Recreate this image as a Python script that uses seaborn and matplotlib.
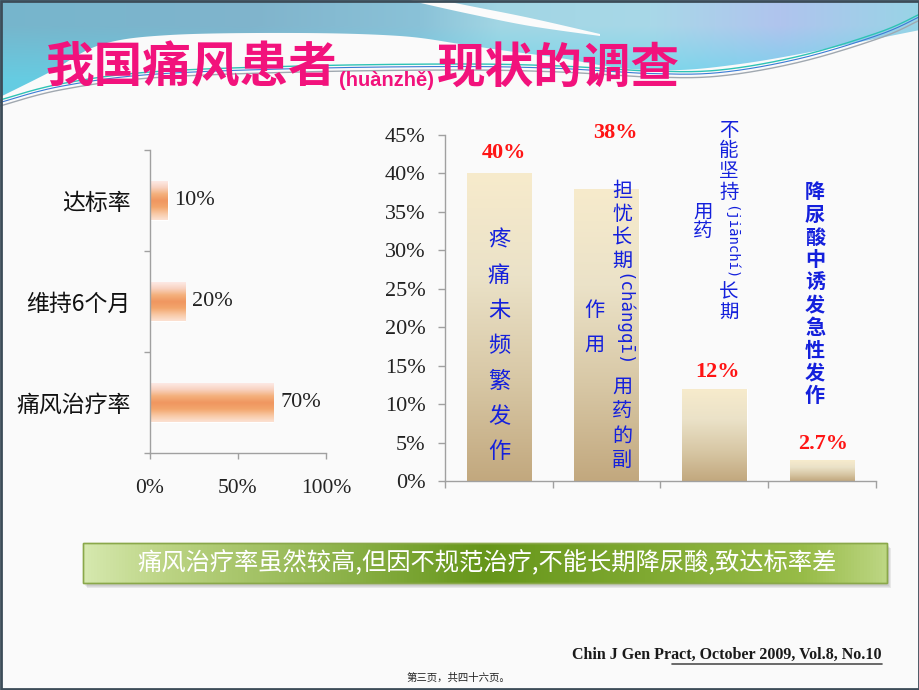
import numpy as np
import pandas as pd
import matplotlib
matplotlib.use("Agg")
import matplotlib.pyplot as plt
import seaborn as sns
from matplotlib.colors import LinearSegmentedColormap, to_rgb
from matplotlib.patches import Polygon, Rectangle

# ---------------- data ----------------
left_categories = ["达标率", "维持6个月", "痛风治疗率"]
left_values = [10, 20, 70]
left_ticks = [0, 50, 100]
left_tick_labels = ["0%", "50%", "100%"]

right_categories = ["疼痛未频繁发作", "担忧长期用药的副作用", "不能坚持长期用药", "降尿酸中诱发急性发作"]
right_values = [40, 38, 12, 2.7]
right_value_labels = ["40%", "38%", "12%", "2.7%"]
right_ticks = list(range(0, 50, 5))
right_tick_labels = [f"{t}%" for t in right_ticks]

title_a = "我国痛风患者"
title_pinyin = "(huànzhě)"
title_b = "现状的调查"
banner_text = "痛风治疗率虽然较高,但因不规范治疗,不能长期降尿酸,致达标率差"
source_text = "Chin J Gen Pract, October 2009, Vol.8, No.10"
page_text = "第三页，共四十六页。"

# ---------------- style ----------------
sns.set_theme(style="white")
plt.rcParams["font.family"] = ["Noto Sans CJK SC", "DejaVu Sans"]
SERIF = ["Liberation Serif", "DejaVu Serif"]
CJK = ["Noto Sans CJK SC", "DejaVu Sans"]
BLUE = "#1420dc"
RED = "#ff1414"
PINK = "#f2127c"
SPINE = "#a0a0a0"

W, H = 920, 690
fig = plt.figure(figsize=(9.2, 6.9), dpi=100)
fig.patch.set_facecolor("#fafafa")

# background (pixel coords)
bg = fig.add_axes([0, 0, 1, 1], zorder=0)
bg.set_xlim(0, W); bg.set_ylim(H, 0); bg.axis("off")


def smooth(pts, n=30):
    pts = np.array(pts, float)
    P = np.vstack([pts[0], pts, pts[-1]])
    out = []
    for i in range(len(pts) - 1):
        p0, p1, p2, p3 = P[i], P[i + 1], P[i + 2], P[i + 3]
        t = np.linspace(0, 1, n)[:, None]
        out.append(0.5 * ((2 * p1) + (-p0 + p2) * t + (2 * p0 - 5 * p1 + 4 * p2 - p3) * t ** 2
                          + (-p0 + 3 * p1 - 3 * p2 + p3) * t ** 3))
    return np.vstack(out)


# header wave region
lower = smooth([(920, 30), (860, 42), (800, 54), (740, 64), (680, 70), (620, 68), (560, 58),
                (500, 50), (460, 44), (400, 36), (300, 33), (170, 35), (100, 45), (50, 72), (0, 97)])
poly_pts = np.vstack([[(0, 0), (920, 0)], lower])
hdr = Polygon(poly_pts, closed=True, facecolor="none", edgecolor="none")
bg.add_patch(hdr)
xs = np.arange(W)
ctrl_x = [0, 250, 420, 500, 650, 780, 920]
ctrl_c = [to_rgb(c) for c in ["#76b6cc", "#80b4cc", "#8ac2d8", "#a2d6e4", "#a8d8e8", "#b0c4ee", "#98d4e6"]]
rows = 100
img = np.zeros((rows, W, 3))
for k in range(3):
    img[:, :, k] = np.interp(xs, ctrl_x, [c[k] for c in ctrl_c])[None, :]
cy = np.array(to_rgb("#5ed6ec"))
fy = np.clip((np.arange(rows)[:, None] - 25) / 55.0, 0, 1) * 0.7
img = img * (1 - fy[..., None]) + cy * fy[..., None]
im = bg.imshow(img, extent=[0, W, rows, 0], aspect="auto", zorder=1, interpolation="bilinear")
im.set_clip_path(hdr)
# white stripe
stripe_up = smooth([(440, 0), (470, 6), (530, 18), (600, 34)])
stripe_lo = smooth([(600, 36), (530, 26), (470, 14), (425, 4), (410, 0)])
bg.add_patch(Polygon(np.vstack([stripe_up, stripe_lo]), closed=True, facecolor="#fbfbfb",
                     edgecolor="none", zorder=2))
# decorative lines
base_line = [(0, 100), (60, 84), (150, 72), (300, 66), (460, 64), (560, 66), (650, 71),
             (720, 70), (800, 56), (880, 32), (920, 14)]
for dy, col, lw in [(0, "#2ec3b5", 1.0), (2.5, "#3a7bd5", 0.8), (6, "#a0a8b0", 1.0)]:
    c = smooth([(x, y + dy) for x, y in base_line])
    bg.plot(c[:, 0], c[:, 1], color=col, lw=lw, zorder=3)

# green banner
bx0, bx1, by0, by1 = 83, 887, 543, 583
for k, a in enumerate([0.10, 0.10, 0.12]):
    bg.add_patch(Rectangle((bx0 + 2 + k, by0 + 3 + k), bx1 - bx0, by1 - by0, facecolor="#606060",
                           edgecolor="none", alpha=a, zorder=3))
box = Rectangle((bx0, by0), bx1 - bx0, by1 - by0, facecolor="none", edgecolor="#8aa84a",
                lw=1, zorder=5)
bg.add_patch(box)
gcols = LinearSegmentedColormap.from_list(
    "g", [(0, "#d6e8ae"), (0.1, "#bcd484"), (0.5, "#66961a"), (0.9, "#98bc48"), (1.0, "#bcd682")])
gim = bg.imshow(np.linspace(0, 1, 256)[None, :], extent=[bx0, bx1, by1, by0], aspect="auto",
                cmap=gcols, zorder=4, interpolation="bicubic")
gim.set_clip_path(box)
bg.add_patch(Rectangle((bx0, by0), bx1 - bx0, by1 - by0, facecolor="none", edgecolor="#8aa84a",
                       lw=1, zorder=6))

# ---------------- left chart ----------------
axL = fig.add_axes([150 / W, (H - 453) / H, 176 / W, 303 / H], zorder=2)
axL.set_facecolor("none")
dfL = pd.DataFrame({"cat": left_categories, "val": left_values})
sns.barplot(data=dfL, x="val", y="cat", orient="h", width=0.38, color="#f3a26a", ax=axL,
            saturation=1)
cmapL = LinearSegmentedColormap.from_list(
    "o", ["#fdeae6", "#f8d2c0", "#f4b07c", "#f09660", "#f3a56c", "#f8c8a4", "#fce2d4"])
for p in axL.patches:
    x0, y0, w, h = p.get_x(), p.get_y(), p.get_width(), p.get_height()
    g = axL.imshow(np.linspace(0, 1, 256)[:, None], extent=[x0, x0 + w, y0 + h, y0],
                   aspect="auto", cmap=cmapL, zorder=p.get_zorder() + 0.1, interpolation="bicubic")
    g.set_clip_path(p)
axL.set_xlim(0, 100)
axL.set_ylim(2.5, -0.5)
axL.set_xticks(left_ticks)
axL.set_xticklabels(left_tick_labels, fontfamily=SERIF, fontsize=15.5, color="#222222")
axL.set_yticks(range(len(left_categories)))
axL.set_yticklabels(left_categories, fontfamily=CJK, fontsize=16.5, color="#111111")
axL.set_yticks([-0.5, 0.5, 1.5, 2.5], minor=True)
axL.tick_params(axis="x", which="major", length=4, width=1, color=SPINE, pad=15, direction="out",
                bottom=True)
axL.tick_params(axis="y", which="major", length=0, pad=14)
axL.tick_params(axis="y", which="minor", length=4, width=1, color=SPINE, direction="out", left=True)
axL.set_xlabel(""); axL.set_ylabel("")
for s in ["top", "right"]:
    axL.spines[s].set_visible(False)
for s in ["left", "bottom"]:
    axL.spines[s].set_color(SPINE); axL.spines[s].set_linewidth(1)
for i, v in enumerate(left_values):
    axL.annotate(f"{v}%", (v, i), xytext=(5, 0), textcoords="offset points", ha="left",
                 va="center", fontfamily=SERIF, fontsize=16, color="#222222")

# ---------------- right chart ----------------
axR = fig.add_axes([445 / W, (H - 481) / H, 431 / W, 346 / H], zorder=2)
axR.set_facecolor("none")
dfR = pd.DataFrame({"cat": right_categories, "val": right_values})
sns.barplot(data=dfR, x="cat", y="val", width=0.6, color="#e8dcc0", ax=axR, saturation=1)
cmapR = LinearSegmentedColormap.from_list("b", ["#c2a87e", "#d8c8a6", "#ebe2c8", "#f7ebcc"])
for p in axR.patches:
    x0, y0, w, h = p.get_x(), p.get_y(), p.get_width(), p.get_height()
    g = axR.imshow(np.linspace(0, 1, 256)[:, None], extent=[x0, x0 + w, y0, y0 + h],
                   origin="lower", aspect="auto", cmap=cmapR, zorder=p.get_zorder() + 0.1,
                   interpolation="bicubic")
    g.set_clip_path(p)
axR.set_xlim(-0.5, len(right_categories) - 0.5)
axR.set_ylim(0, 45)
axR.set_yticks(right_ticks)
axR.set_yticklabels(right_tick_labels, fontfamily=SERIF, fontsize=16, color="#222222")
axR.set_xticks(range(len(right_categories)))
axR.set_xticklabels([""] * len(right_categories))
axR.set_xticks(np.arange(-0.5, len(right_categories)), minor=True)
axR.tick_params(axis="x", which="major", length=0)
axR.tick_params(axis="x", which="minor", length=5, width=1, color=SPINE, direction="out", bottom=True)
axR.tick_params(axis="y", which="major", length=5, width=1, color=SPINE, direction="out", pad=9,
                left=True)
axR.set_xlabel(""); axR.set_ylabel("")
for s in ["top", "right"]:
    axR.spines[s].set_visible(False)
for s in ["left", "bottom"]:
    axR.spines[s].set_color(SPINE); axR.spines[s].set_linewidth(1)
label_off = [(4, 15), (6, 40), (2, 12), (1, 12)]
for i, (v, lab) in enumerate(zip(right_values, right_value_labels)):
    axR.annotate(lab, (i, v), xytext=label_off[i], textcoords="offset points", ha="center",
                 va="center", fontfamily=SERIF, fontsize=16, fontweight="bold", color=RED,
                 annotation_clip=False)

# ---------------- overlay texts (pixel coords) ----------------
ov = fig.add_axes([0, 0, 1, 1], zorder=5)
ov.set_facecolor("none")
ov.set_xlim(0, W); ov.set_ylim(H, 0); ov.axis("off")


def vchars(x, y0, step, s, size, weight="medium"):
    for k, ch in enumerate(s):
        ov.text(x, y0 + k * step, ch, ha="center", va="center", fontsize=size, color=BLUE,
                fontfamily=CJK, fontweight=weight)


def vpinyin(x, ytop, s, size):
    ov.text(x, ytop, s, rotation=-90, ha="center", va="top", fontsize=size, color=BLUE,
            fontfamily=["DejaVu Sans Mono"])


# column 1
vchars(499, 240, 35.3, "疼痛未频繁发作", 16)
# column 2
vchars(622, 192, 23, "担忧长期", 14.5)
vpinyin(623, 273, "(chángqī)", 12.5)
vchars(622, 387, 24.5, "用药的副", 14.5)
vchars(594, 310, 35, "作用", 14.5)
# column 3
vchars(729, 130, 21, "不能坚持", 14)
vpinyin(730, 205, "(jiānchí)", 10)
vchars(729, 292, 20, "长期", 14)
vchars(703, 212, 19, "用药", 14)
# column 4
vchars(815, 192, 22.6, "降尿酸中诱发急性发作", 14.5, weight="bold")

# title
ov.text(46, 68, title_a, ha="left", va="center", fontsize=35, fontweight="heavy", color=PINK,
        fontfamily=CJK)
ov.text(339, 86, title_pinyin, ha="left", va="baseline", fontsize=14.5, fontweight="bold",
        color=PINK, fontfamily=["Liberation Sans", "DejaVu Sans"])
ov.text(437, 68, title_b, ha="left", va="center", fontsize=35, fontweight="heavy", color=PINK,
        fontfamily=CJK)

# banner text
ov.text(487, 563, banner_text, ha="center", va="center", fontsize=17.5, color="white",
        fontfamily=CJK)

# source and page number
ov.text(882, 655, source_text, ha="right", va="center", fontsize=11.5, fontweight="bold",
        color="#1a1a1a", fontfamily=SERIF)
ov.plot([672, 882], [664, 664], color="#505050", lw=1.2)
ov.text(458, 678, page_text, ha="center", va="center", fontsize=7.5, color="#222222",
        fontfamily=CJK)

# frame
ov.add_patch(Rectangle((0.5, 0.5), W - 1, H - 1.5, facecolor="none", edgecolor="#3c4c58", lw=2))

fig.savefig("out.png", dpi=100, facecolor=fig.get_facecolor())
